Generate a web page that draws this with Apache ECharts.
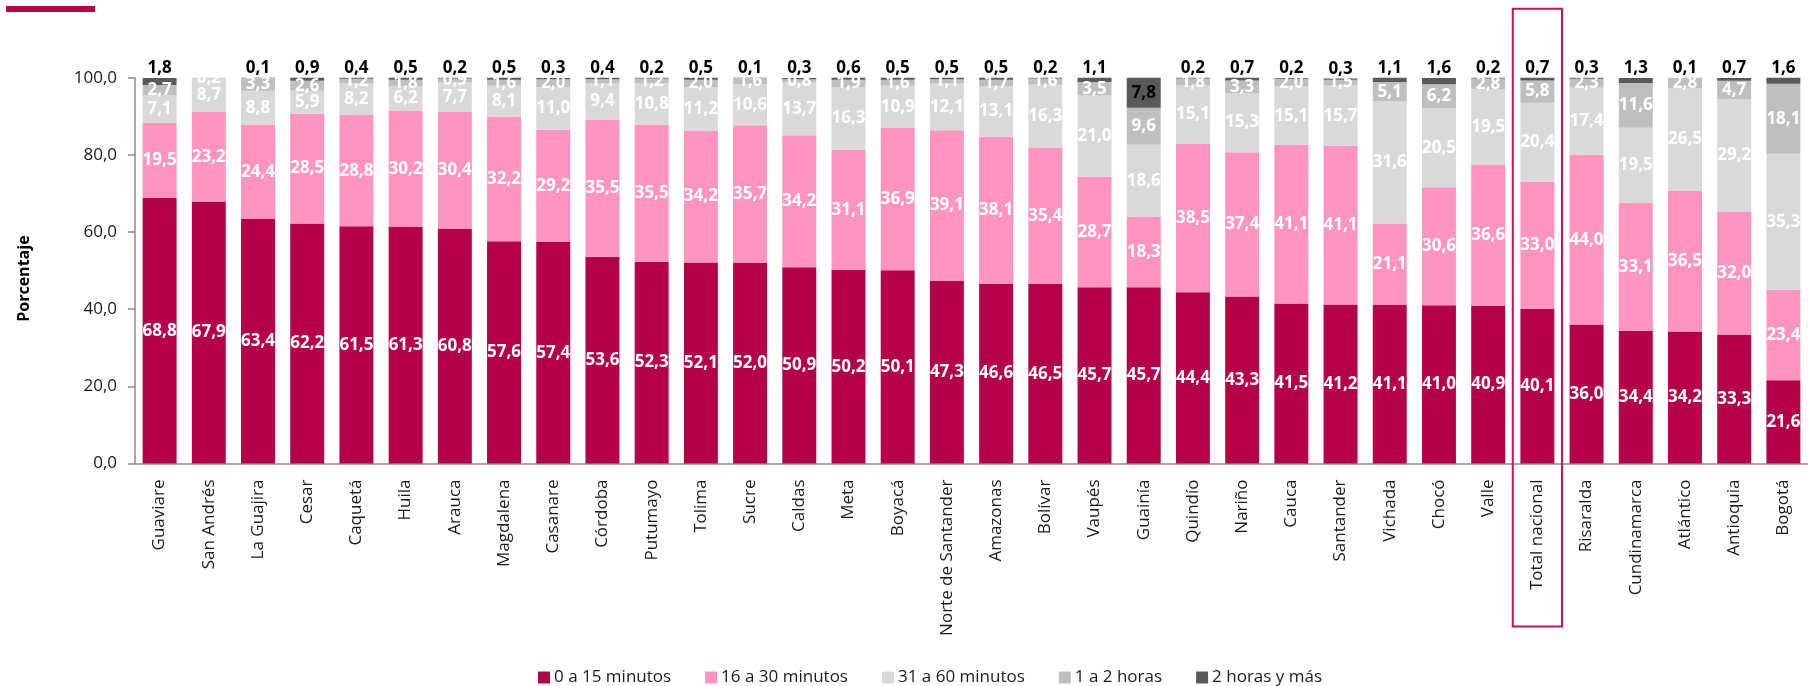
<!DOCTYPE html>
<html>
<head>
<meta charset="utf-8">
<script src="https://cdn.jsdelivr.net/npm/echarts@6/dist/echarts.min.js"></script>
<style>
  html, body { margin: 0; padding: 0; background: #ffffff; }
  #chart { width: 1808px; height: 686px; }
</style>
</head>
<body>
<div id="chart"></div>
<script>
// Tiempo de desplazamiento por departamento (porcentaje)
const categories = [
  'Guaviare', 'San Andrés', 'La Guajira', 'Cesar', 'Caquetá', 'Huila', 'Arauca',
  'Magdalena', 'Casanare', 'Córdoba', 'Putumayo', 'Tolima', 'Sucre', 'Caldas',
  'Meta', 'Boyacá', 'Norte de Santander', 'Amazonas', 'Bolívar', 'Vaupés',
  'Guainía', 'Quindío', 'Nariño', 'Cauca', 'Santander', 'Vichada', 'Chocó',
  'Valle', 'Total nacional', 'Risaralda', 'Cundinamarca', 'Atlántico',
  'Antioquia', 'Bogotá'
];
const min0a15 = [
  68.8, 67.9, 63.4, 62.2, 61.5, 61.3, 60.8, 57.6, 57.4, 53.6, 52.3, 52.1, 52.0,
  50.9, 50.2, 50.1, 47.3, 46.6, 46.5, 45.7, 45.7, 44.4, 43.3, 41.5, 41.2, 41.1,
  41.0, 40.9, 40.1, 36.0, 34.4, 34.2, 33.3, 21.6
];
const min16a30 = [
  19.5, 23.2, 24.4, 28.5, 28.8, 30.2, 30.4, 32.2, 29.2, 35.5, 35.5, 34.2, 35.7,
  34.2, 31.1, 36.9, 39.1, 38.1, 35.4, 28.7, 18.3, 38.5, 37.4, 41.1, 41.1, 21.1,
  30.6, 36.6, 33.0, 44.0, 33.1, 36.5, 32.0, 23.4
];
const min31a60 = [
  7.1, 8.7, 8.8, 5.9, 8.2, 6.2, 7.7, 8.1, 11.0, 9.4, 10.8, 11.2, 10.6,
  13.7, 16.3, 10.9, 12.1, 13.1, 16.3, 21.0, 18.6, 15.1, 15.3, 15.1, 15.7, 31.6,
  20.5, 19.5, 20.4, 17.4, 19.5, 26.5, 29.2, 35.3
];
const hrs1a2 = [
  2.7, 0.2, 3.3, 2.6, 1.2, 1.8, 0.9, 1.6, 2.0, 1.1, 1.2, 2.0, 1.6,
  0.8, 1.9, 1.6, 1.1, 1.7, 1.6, 3.5, 9.6, 1.8, 3.3, 2.0, 1.5, 5.1,
  6.2, 2.8, 5.8, 2.3, 11.6, 2.8, 4.7, 18.1
];
const hrs2mas = [
  1.8, 0, 0.1, 0.9, 0.4, 0.5, 0.2, 0.5, 0.3, 0.4, 0.2, 0.5, 0.1,
  0.3, 0.6, 0.5, 0.5, 0.5, 0.2, 1.1, 7.8, 0.2, 0.7, 0.2, 0.3, 1.1,
  1.6, 0.2, 0.7, 0.3, 1.3, 0.1, 0.7, 1.6
];
const yTicks = [0, 20, 40, 60, 80, 100];
const seriesNames = ['0 a 15 minutos', '16 a 30 minutos', '31 a 60 minutos', '1 a 2 horas', '2 horas y más'];
const highlighted = 'Total nacional';

const FONT = "'Open Sans', 'Noto Sans', sans-serif";
const colors = ['#B5004A', '#FF94C0', '#D9D9D9', '#BFBFBF', '#595959'];
const fmt = v => v.toFixed(1).replace('.', ',');

const insideLabel = {
  show: true,
  position: 'inside',
  color: '#ffffff',
  fontFamily: FONT,
  fontWeight: 'bold',
  fontSize: 17,
  textBorderWidth: 0,
  formatter: p => (p.value > 0 ? fmt(p.value) : '')
};

function stackSeries(name, values, color, label) {
  return {
    name: name,
    type: 'bar',
    stack: 'total',
    barWidth: '69%',
    itemStyle: { color: color },
    label: label,
    emphasis: { disabled: true },
    data: values
  };
}

// The longest-wait segment is labelled above the bar, or inside when it is large.
const topData = hrs2mas.map(v => v >= 5
  ? { value: v, label: { position: 'inside', color: '#000000' } }
  : v);

const chart = echarts.init(document.getElementById('chart'), null, { renderer: 'canvas' });

const option = {
  backgroundColor: '#ffffff',
  animation: false,
  textStyle: { fontFamily: FONT },
  grid: { left: 135, right: -1.5, top: 77.7, bottom: 222.5, containLabel: false },
  legend: {
    left: 533,
    top: 664,
    itemWidth: 12,
    itemHeight: 12,
    itemGap: 34,
    icon: 'rect',
    textStyle: { fontFamily: FONT, fontSize: 17, color: '#1a1a1a', padding: [0, 0, 0, -1] },
    data: seriesNames
  },
  xAxis: {
    type: 'category',
    data: categories,
    axisLine: { lineStyle: { color: '#8a8a8a', width: 1.5 } },
    axisTick: { length: 6, lineStyle: { color: '#8a8a8a', width: 1.5 } },
    axisLabel: {
      rotate: 90,
      interval: 0,
      margin: 16,
      fontFamily: FONT,
      fontSize: 17,
      color: '#1a1a1a'
    }
  },
  yAxis: {
    type: 'value',
    min: yTicks[0],
    max: yTicks[yTicks.length - 1],
    interval: yTicks[1] - yTicks[0],
    splitLine: { show: false },
    axisLine: { show: true, lineStyle: { color: '#8a8a8a', width: 1.5 } },
    axisTick: { show: true, length: 7, lineStyle: { color: '#8a8a8a', width: 1.5 } },
    axisLabel: {
      margin: 18,
      fontFamily: FONT,
      fontSize: 17,
      color: '#1a1a1a',
      formatter: v => fmt(v)
    }
  },
  series: [
    stackSeries(seriesNames[0], min0a15, colors[0], insideLabel),
    stackSeries(seriesNames[1], min16a30, colors[1], insideLabel),
    stackSeries(seriesNames[2], min31a60, colors[2], insideLabel),
    stackSeries(seriesNames[3], hrs1a2, colors[3], insideLabel),
    stackSeries(seriesNames[4], topData, colors[4], {
      show: true,
      position: 'top',
      distance: 1,
      color: '#000000',
      fontFamily: FONT,
      fontWeight: 'bold',
      fontSize: 17,
      textBorderWidth: 0,
      formatter: p => (p.value > 0 ? fmt(p.value) : '')
    })
  ]
};

chart.setOption(option);

// Frame around the national total column, plus the title accent bar and axis name.
const idx = categories.indexOf(highlighted);
const cx = chart.convertToPixel({ xAxisIndex: 0 }, idx);
const band = chart.convertToPixel({ xAxisIndex: 0 }, idx + 1) - cx;
const yTop = chart.convertToPixel({ yAxisIndex: 0 }, yTicks[yTicks.length - 1]);
const yBottom = chart.convertToPixel({ yAxisIndex: 0 }, yTicks[0]);

chart.setOption({
  graphic: [
    {
      type: 'rect',
      shape: { x: cx - band / 2, y: yTop - 69, width: band, height: (yBottom + 163) - (yTop - 69) },
      style: { fill: 'none', stroke: '#C8105A', lineWidth: 2 },
      silent: true,
      z: 100
    },
    {
      type: 'rect',
      shape: { x: 6, y: 6, width: 89, height: 6 },
      style: { fill: '#B5004A' },
      silent: true
    },
    {
      type: 'text',
      x: 24,
      y: (yTop + yBottom) / 2 + 8,
      rotation: Math.PI / 2,
      style: {
        text: 'Porcentaje',
        fontFamily: FONT,
        fontWeight: 'bold',
        fontSize: 16,
        fill: '#000000',
        align: 'center',
        verticalAlign: 'middle'
      },
      silent: true
    }
  ]
});
</script>
</body>
</html>
